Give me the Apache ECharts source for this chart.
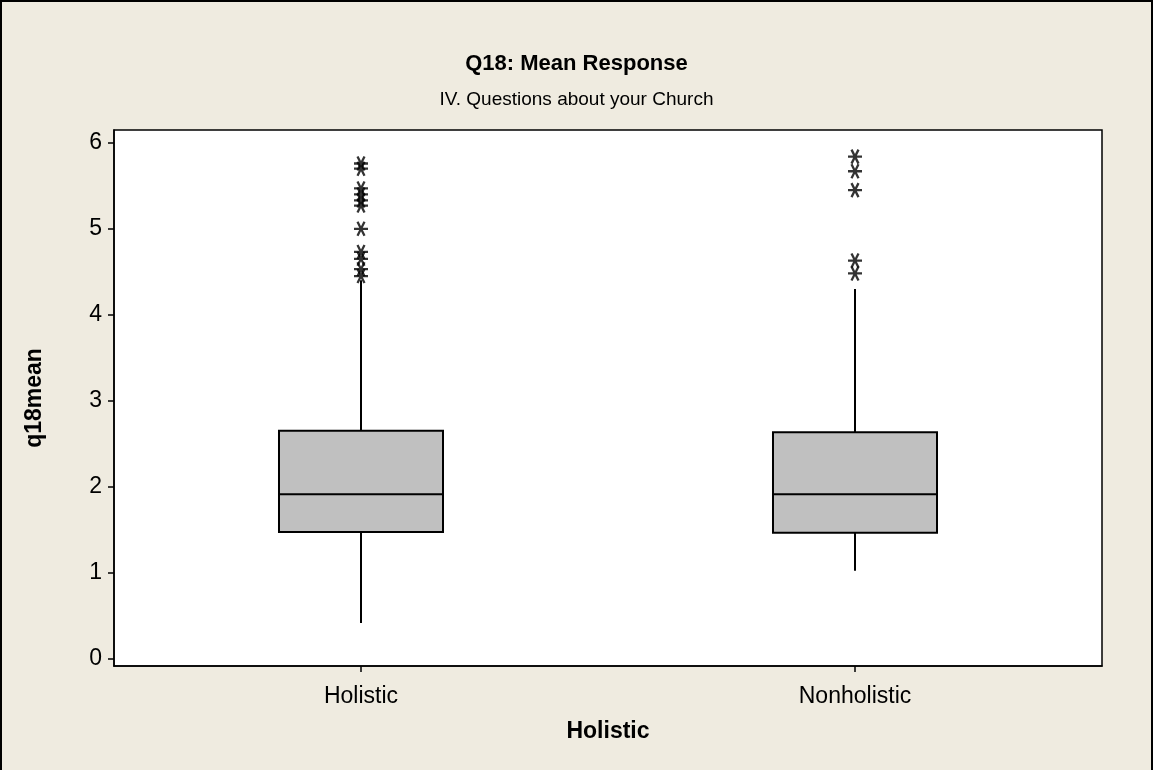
<!DOCTYPE html>
<html>
<head>
<meta charset="utf-8">
<script src="https://cdn.jsdelivr.net/npm/echarts@6/dist/echarts.min.js"></script>
<style>
  html, body { margin: 0; padding: 0; background: #EFEBE0; }
  #wrap { position: relative; width: 1153px; height: 770px; }
  #chart { position: absolute; left: 0; top: 0; width: 1153px; height: 770px; }
  #frame { position: absolute; left: 0; top: 0; width: 1149px; height: 772px;
           border: 2px solid #000; pointer-events: none; }
</style>
</head>
<body>
<div id="wrap">
  <div id="chart"></div>
  <div id="frame"></div>
</div>
<script>
// Group names on the x axis
const categories = ['Holistic', 'Nonholistic'];

// Five-number summaries per group (whisker ends, quartiles, median)
const lowWhisker  = [0.41, 1.02];
const q1          = [1.47, 1.46];
const median      = [1.91, 1.91];
const q3          = [2.65, 2.63];
const highWhisker = [4.40, 4.30];

// Outlying values drawn as asterisks
const holisticOutliers    = [5.76, 5.70, 5.47, 5.40, 5.33, 5.27, 5.00, 4.73, 4.65, 4.53, 4.45];
const nonholisticOutliers = [5.84, 5.67, 5.45, 4.63, 4.48];

// Tick values on the y axis
const yTicks = [0, 1, 2, 3, 4, 5, 6];

const FONT = '"Liberation Sans", Arial, sans-serif';

const boxData = categories.map((c, i) =>
  [i, lowWhisker[i], q1[i], median[i], q3[i], highWhisker[i]]);

const outlierData = []
  .concat(holisticOutliers.map(v => [categories[0], v]))
  .concat(nonholisticOutliers.map(v => [categories[1], v]));

// Six-armed asterisk (horizontal bar plus two diagonals)
const starPath = 'path://M-10,0L10,0M-5,-8.66L5,8.66M5,-8.66L-5,8.66';

const chart = echarts.init(document.getElementById('chart'), null, { renderer: 'canvas' });

chart.setOption({
  backgroundColor: '#EFEBE0',
  animation: false,
  title: [
    {
      text: 'Q18: Mean Response',
      left: 'center',
      top: 48,
      textStyle: { fontFamily: FONT, fontSize: 22, fontWeight: 'bold', color: '#000' }
    },
    {
      text: 'IV. Questions about your Church',
      left: 'center',
      top: 85,
      textStyle: { fontFamily: FONT, fontSize: 19, fontWeight: 'normal', color: '#000' }
    }
  ],
  grid: {
    left: 114, right: 51, top: 130, bottom: 104,
    show: true, backgroundColor: '#FFFFFF', borderColor: '#000', borderWidth: 1.5
  },
  xAxis: {
    type: 'category',
    data: categories,
    boundaryGap: true,
    name: 'Holistic',
    nameLocation: 'middle',
    nameGap: 54,
    nameTextStyle: { fontFamily: FONT, fontSize: 23, fontWeight: 'bold', color: '#000' },
    axisLine: { show: true, onZero: false, lineStyle: { color: '#000', width: 1.5 } },
    axisTick: { show: true, alignWithLabel: true, length: 6, lineStyle: { color: '#000', width: 1.5 } },
    axisLabel: { fontFamily: FONT, fontSize: 23, color: '#000', margin: 19 },
    splitLine: { show: false }
  },
  yAxis: {
    type: 'value',
    min: -0.09,
    max: 6.15,
    name: 'q18mean',
    nameLocation: 'middle',
    nameGap: 68,
    nameRotate: 90,
    nameTextStyle: { fontFamily: FONT, fontSize: 23, fontWeight: 'bold', color: '#000' },
    axisLine: { show: true, onZero: false, lineStyle: { color: '#000', width: 1.5 } },
    axisTick: { show: true, length: 6, customValues: yTicks, lineStyle: { color: '#000', width: 1.5 } },
    axisLabel: { fontFamily: FONT, fontSize: 23, color: '#000', margin: 12, customValues: yTicks },
    splitLine: { show: false }
  },
  series: [
    {
      type: 'custom',
      data: boxData,
      encode: { x: 0, y: [1, 2, 3, 4, 5] },
      renderItem: function (params, api) {
        const idx = api.value(0);
        const band = api.size([1, 0])[0];
        const half = band * 0.166;
        const cx = api.coord([idx, 0])[0];
        const yLo = api.coord([idx, api.value(1)])[1];
        const yQ1 = api.coord([idx, api.value(2)])[1];
        const yMd = api.coord([idx, api.value(3)])[1];
        const yQ3 = api.coord([idx, api.value(4)])[1];
        const yHi = api.coord([idx, api.value(5)])[1];
        const line = { stroke: '#000', lineWidth: 2 };
        return {
          type: 'group',
          children: [
            { type: 'line', shape: { x1: cx, y1: yQ3, x2: cx, y2: yHi }, style: line },
            { type: 'line', shape: { x1: cx, y1: yQ1, x2: cx, y2: yLo }, style: line },
            { type: 'rect', shape: { x: cx - half, y: yQ3, width: half * 2, height: yQ1 - yQ3 },
              style: { fill: '#C0C0C0', stroke: '#000', lineWidth: 2 } },
            { type: 'line', shape: { x1: cx - half, y1: yMd, x2: cx + half, y2: yMd }, style: line }
          ]
        };
      },
      z: 2
    },
    {
      type: 'scatter',
      data: outlierData,
      symbol: starPath,
      symbolSize: [14, 14],
      itemStyle: { color: 'rgba(0,0,0,0)', borderColor: '#000', borderWidth: 2.3 },
      z: 3
    }
  ]
});
</script>
</body>
</html>
